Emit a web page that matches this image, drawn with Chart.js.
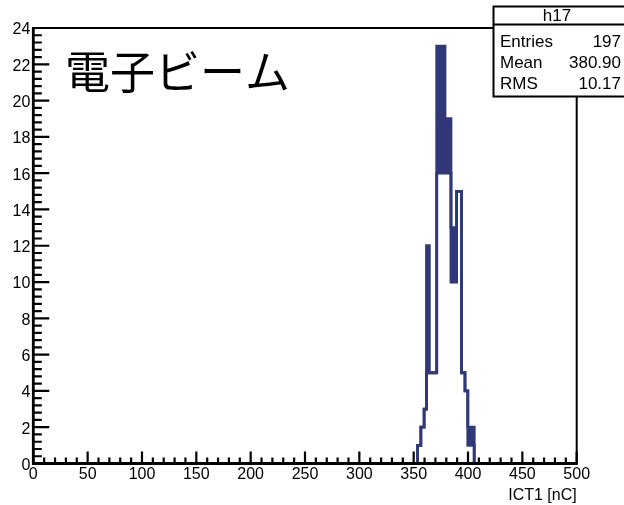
<!DOCTYPE html>
<html><head><meta charset="utf-8">
<script src="https://cdn.jsdelivr.net/npm/chart.js@4"></script>
<style>html,body{margin:0;padding:0;background:#fff}#c{display:block}</style>
</head><body>
<canvas id="c" width="624" height="505"></canvas>
<script>
// ---- data ----
const binEdges    = [350, 353.6, 356.6, 359.6, 361.8, 364.4, 371.2, 378.8, 384.3, 389.5, 394.0, 397.2, 399.8, 405.7, 410];
const upperCounts = [0,   1,     2,     3,     12,    5,     23,    19,    13,    15,    5,     4,     2,     0,     0];
const lowerCounts = [0,   1,     2,     3,     5,     5,     16,    16,    10,    15,    5,     4,     1,     0,     0];
const xTickLabels = [0, 50, 100, 150, 200, 250, 300, 350, 400, 450, 500];
const yTickLabels = [0, 2, 4, 6, 8, 10, 12, 14, 16, 18, 20, 22, 24];
const statsLabels = ['Entries', 'Mean', 'RMS'];
const statsValues = ['197', '380.90', '10.17'];
const histName = 'h17';
const chartTitle = '電子ビーム';
const xTitle = 'ICT1 [nC]';

const NAVY = '#303878';
const FONT = '"Liberation Sans", Arial, sans-serif';

const upperPts = binEdges.map((x, i) => ({x, y: upperCounts[i]}));
const lowerPts = binEdges.map((x, i) => ({x, y: lowerCounts[i]}));

const rootFrame = {
  id: 'rootFrame',
  afterDatasetsDraw(chart) {
    const {ctx, chartArea: a, scales: {x, y}} = chart;
    ctx.save();
    ctx.strokeStyle = '#000';
    ctx.lineCap = 'butt';
    ctx.lineWidth = 2.2;
    ctx.beginPath();
    for (let v = 0; v <= 500; v += 10) {
      const px = x.getPixelForValue(v);
      const len = v % 50 === 0 ? 12 : 6;
      ctx.moveTo(px, a.bottom); ctx.lineTo(px, a.bottom - len);
    }
    for (let i = 0; i <= 60; i++) {
      const py = y.getPixelForValue(i * 0.4);
      const len = i % 5 === 0 ? 16 : 8.5;
      ctx.moveTo(a.left, py); ctx.lineTo(a.left + len, py);
    }
    ctx.stroke();
    // frame
    ctx.lineWidth = 2;
    ctx.beginPath();
    ctx.moveTo(a.left, a.top); ctx.lineTo(a.right, a.top); ctx.lineTo(a.right, a.bottom);
    ctx.stroke();
    ctx.lineWidth = 2.8;
    ctx.beginPath();
    ctx.moveTo(a.left, a.top - 1); ctx.lineTo(a.left, a.bottom); ctx.lineTo(a.right + 1, a.bottom);
    ctx.stroke();
    // title text inside frame
    ctx.fillStyle = '#000';
    ctx.font = '45px "Noto Sans CJK JP"';
    ctx.textBaseline = 'middle';
    ctx.textAlign = 'left';
    ctx.fillText(chartTitle, 65, 72);
    // stats box
    const bx = 493.5, by = 6.5, bw = 140, bh = 90;
    ctx.fillStyle = '#fff';
    ctx.fillRect(bx, by, bw, bh);
    ctx.lineWidth = 2;
    ctx.strokeRect(bx, by, bw, bh);
    ctx.beginPath(); ctx.moveTo(bx, 24.5); ctx.lineTo(bx + bw, 24.5); ctx.stroke();
    ctx.fillStyle = '#000';
    ctx.font = '17px ' + FONT;
    ctx.textAlign = 'center';
    ctx.fillText(histName, 557, 16);
    const rows = [42, 63.5, 84];
    statsLabels.forEach((l, i) => {
      ctx.textAlign = 'left';
      ctx.fillText(l, 500, rows[i]);
      ctx.textAlign = 'right';
      ctx.fillText(statsValues[i], 621, rows[i]);
    });
    ctx.restore();
  }
};

new Chart(document.getElementById('c'), {
  type: 'line',
  data: {
    datasets: [
      {data: upperPts, stepped: 'before', borderColor: NAVY, backgroundColor: NAVY, borderWidth: 2.8,
       pointRadius: 0, fill: '+1', order: 1},
      {data: lowerPts, stepped: 'before', borderColor: NAVY, borderWidth: 2.8,
       pointRadius: 0, fill: false, order: 2}
    ]
  },
  options: {
    responsive: false,
    devicePixelRatio: 1,
    animation: false,
    events: [],
    layout: {padding: {top: 28, right: 47.3, left: 0, bottom: 0}},
    plugins: {legend: {display: false}, tooltip: {enabled: false}, title: {display: false}},
    scales: {
      x: {
        type: 'linear', min: 0, max: 500,
        grid: {display: false, drawTicks: false}, border: {display: false},
        afterBuildTicks: s => { s.ticks = xTickLabels.map(v => ({value: v})); },
        afterFit: s => { s.height = 41.5; },
        ticks: {color: '#000', font: {family: FONT, size: 16}, padding: 1.5, maxRotation: 0, autoSkip: false},
        title: {display: true, text: xTitle, align: 'end', color: '#000',
                font: {family: FONT, size: 16, lineHeight: 1.2}, padding: {top: 0, bottom: 0}}
      },
      y: {
        type: 'linear', min: 0, max: 24,
        grid: {display: false, drawTicks: false}, border: {display: false},
        afterBuildTicks: s => { s.ticks = yTickLabels.map(v => ({value: v})); },
        afterFit: s => { s.width = 33.3; },
        ticks: {color: '#000', font: {family: FONT, size: 16}, padding: 3, labelOffset: 2, autoSkip: false}
      }
    }
  },
  plugins: [rootFrame]
});
</script>
</body></html>
